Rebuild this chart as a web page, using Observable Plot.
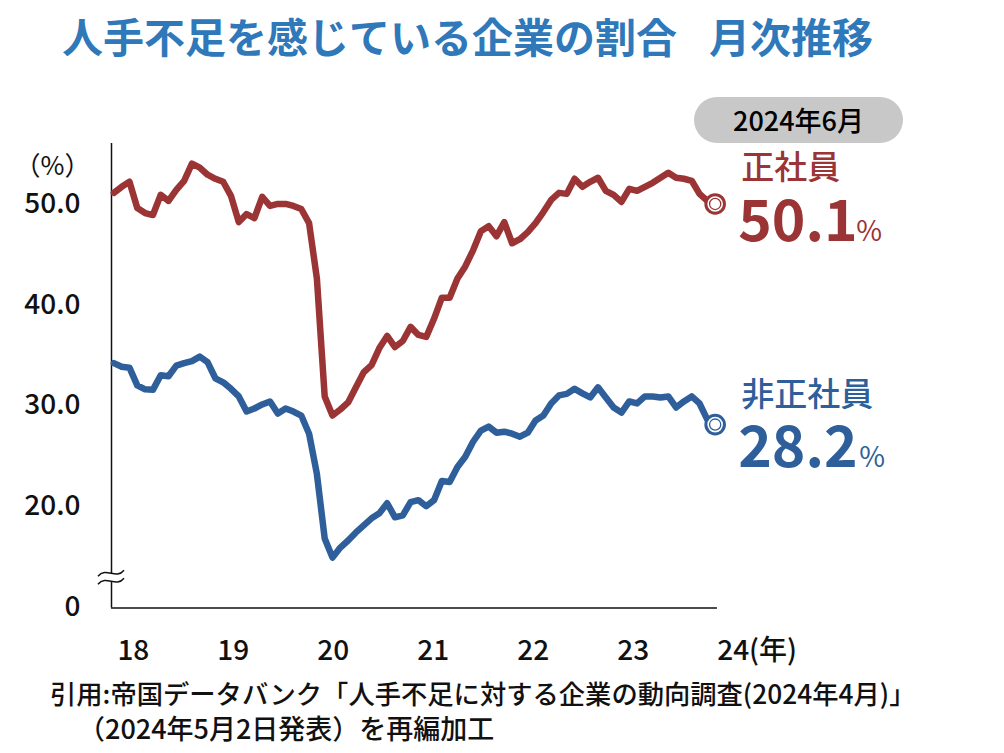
<!DOCTYPE html>
<html>
<head>
<meta charset="utf-8">
<script src="https://cdn.jsdelivr.net/npm/d3@7"></script>
<script src="https://cdn.jsdelivr.net/npm/@observablehq/plot@0.6"></script>
<style>
  html, body { margin: 0; padding: 0; background: #fff; }
  body { width: 1004px; height: 753px; overflow: hidden; font-family: "Noto Sans CJK JP", "Noto Sans", sans-serif; }
  #wrap { position: relative; width: 1004px; height: 753px; }
  #chart { position: absolute; left: 0; top: 0; }
  .title { position: absolute; left: 62px; top: 13px; font-size: 41px; line-height: 44px; font-weight: 700; color: #2f78ba; white-space: nowrap; }
  .title .gap { display: inline-block; width: 32px; }
  .pill { position: absolute; left: 694px; top: 97px; width: 209px; height: 46px; border-radius: 23px; background: #c8c8c8; color: #000; font-size: 27px; font-weight: 500; line-height: 46px; text-align: center; }
  .cap { position: absolute; font-size: 26.3px; font-weight: 500; color: #111; white-space: nowrap; line-height: 35px; height: 35px; }
</style>
</head>
<body>
<div id="wrap">
  <div id="chart"></div>
  <div class="title" id="title"></div>
  <div class="pill" id="pill"></div>
  <div class="cap" id="cap1" style="left:50px; top:674.5px;"></div>
  <div class="cap" id="cap2" style="left:78px; top:709.5px; font-size:27px;"></div>
</div>
<script>
// ---- data (monthly, Jan 2018 .. Jun 2024) ----
const startYear = 2018;
const startMonth = 1;
const regular = [51.2, 51.8, 52.3, 49.7, 49.2, 49.0, 51.0, 50.4, 51.5, 52.4,
  54.1, 53.7, 53.0, 52.6, 52.3, 50.9, 48.3, 49.1, 48.7, 50.8,
  49.9, 50.1, 50.1, 49.9, 49.6, 48.2, 42.7, 31.0, 29.1, 29.7,
  30.4, 31.9, 33.4, 34.1, 35.8, 37.0, 35.9, 36.5, 37.9, 37.1,
  36.9, 38.7, 40.8, 40.8, 42.7, 43.9, 45.5, 47.4, 47.9, 46.9,
  48.3, 46.2, 46.6, 47.3, 48.2, 49.3, 50.5, 51.2, 51.1, 52.6,
  51.8, 52.3, 52.7, 51.4, 51.0, 50.3, 51.6, 51.4, 51.8, 52.2,
  52.7, 53.2, 52.7, 52.6, 52.4, 51.1, 50.4, 50.1];
const nonRegular = [34.3, 33.95, 33.85, 32.1, 31.7, 31.65, 33.1, 33.0, 34.05, 34.3,
  34.5, 34.95, 34.4, 32.8, 32.4, 31.75, 31.0, 29.5, 29.8, 30.2,
  30.5, 29.3, 29.8, 29.5, 29.1, 27.3, 23.3, 16.9, 15.0, 16.0,
  16.7, 17.5, 18.2, 18.9, 19.4, 20.4, 19.0, 19.2, 20.5, 20.7,
  20.1, 20.7, 22.6, 22.5, 24.0, 25.0, 26.5, 27.6, 28.0, 27.4,
  27.5, 27.3, 27.0, 27.4, 28.6, 29.1, 30.3, 31.1, 31.25, 31.75,
  31.3, 30.9, 31.9, 30.9, 29.9, 29.4, 30.5, 30.3, 31.0, 31.0,
  30.9, 31.0, 29.9, 30.5, 31.0, 30.3, 28.7, 28.2];
const seriesNames = ["正社員", "非正社員"];
const yTickValues = [10, 20, 30, 40, 50];
const yTickLabels = ["0", "20.0", "30.0", "40.0", "50.0"];
const xTickMonths = [2.5, 15.3, 28.1, 40.9, 53.7, 66.5, 79.3];
const xTickLabels = ["18", "19", "20", "21", "22", "23", "24"];
const xUnitLabel = "(年)";
const yUnitLabel = "（%）";
const yBreakValue = 13;
const titleMain = "人手不足を感じている企業の割合";
const titleSub = "月次推移";
const caption1 = "引用:帝国データバンク「人手不足に対する企業の動向調査(2024年4月)」";
const caption2 = "（2024年5月2日発表）を再編加工";

// ---- styles ----
const red = "#9b3434";
const blue = "#2f5f9a";
const font = "'Noto Sans CJK JP', 'Noto Sans', sans-serif";

const toRows = (arr) => arr.map((v, i) => ({i, v}));
const regRows = toRows(regular);
const nonRows = toRows(nonRegular);
const xDomain = [-0.3, regular.length - 1 + 0.3];
const yDomain = [10, 56.1];
const fmt = d3.format(".1f");

const lastIdx = regular.length - 1;
const lastMonthTotal = (startMonth - 1) + lastIdx;
const lastYear = startYear + Math.floor(lastMonthTotal / 12);
const lastMonth = (lastMonthTotal % 12) + 1;

function endMarks(rows, color, name, o) {
  const last = [rows[rows.length - 1]];
  const base = {x: "i", y: "v", textAnchor: "start", fill: color, fontFamily: font};
  return [
    Plot.dot(last, {x: "i", y: "v", r: 9.3, fill: "white", stroke: color, strokeWidth: 3}),
    Plot.dot(last, {x: "i", y: "v", r: 5.6, fill: "none", stroke: color, strokeWidth: 1.3}),
    Plot.text(last, {...base, text: () => name, dx: 26, dy: o.dyName, fontSize: 33, fontWeight: 500}),
    Plot.text(last, {...base, text: d => fmt(d.v), dx: 23, dy: o.dyVal, fontSize: 57, fontWeight: 700}),
    Plot.text(last, {...base, text: () => "%", dx: o.dxPct, dy: o.dyPct, fontSize: 28, fontWeight: 400})
  ];
}

function breakMark(index, scales) {
  const g = d3.create("svg:g");
  const x0 = scales.x(xDomain[0]);
  const yb = scales.y(yBreakValue);
  const wave = (y) => `M${x0 - 13},${y + 3} C${x0 - 5},${y - 7} ${x0 + 5},${y + 7} ${x0 + 13},${y - 3}`;
  const y1 = yb - 4, y2 = yb + 4;
  g.append("path")
    .attr("d", `M${x0 - 13},${y1 + 3} C${x0 - 5},${y1 - 7} ${x0 + 5},${y1 + 7} ${x0 + 13},${y1 - 3} L${x0 + 13},${y2 - 3} C${x0 + 5},${y2 + 7} ${x0 - 5},${y2 - 7} ${x0 - 13},${y2 + 3} Z`)
    .attr("fill", "white");
  g.append("path").attr("d", wave(y1)).attr("fill", "none").attr("stroke", "#111").attr("stroke-width", 1.5);
  g.append("path").attr("d", wave(y2)).attr("fill", "none").attr("stroke", "#111").attr("stroke-width", 1.5);
  return g.node();
}

const chart = Plot.plot({
  width: 1004,
  height: 753,
  marginLeft: 111,
  marginRight: 287,
  marginTop: 143,
  marginBottom: 145.5,
  x: {domain: xDomain, axis: null},
  y: {domain: yDomain, axis: null},
  style: {fontFamily: font, background: "transparent", overflow: "visible"},
  marks: [
    Plot.ruleX([xDomain[0]], {stroke: "#111", strokeWidth: 1.5}),
    Plot.ruleY([yDomain[0]], {stroke: "#111", strokeWidth: 1.5}),
    breakMark,
    Plot.text(yTickValues, {y: d => d, text: (d, i) => yTickLabels[i], frameAnchor: "left", dx: -31, dy: -1, textAnchor: "end", fontSize: 28, fontWeight: 500, fill: "#111"}),
    Plot.text([yUnitLabel], {frameAnchor: "top-left", dx: -59, dy: 13, textAnchor: "middle", fontSize: 26, fontWeight: 400, fill: "#111"}),
    Plot.text(xTickMonths, {x: d => d, text: (d, i) => xTickLabels[i], frameAnchor: "bottom", dy: 52, textAnchor: "middle", fontSize: 28, fontWeight: 500, fill: "#111"}),
    Plot.text([xTickMonths[xTickMonths.length - 1]], {x: d => d, text: () => xUnitLabel, frameAnchor: "bottom", dx: 16, dy: 52, textAnchor: "start", fontSize: 28, fontWeight: 500, fill: "#111"}),
    Plot.line(regRows, {x: "i", y: "v", stroke: red, strokeWidth: 6.5, strokeLinejoin: "round", strokeLinecap: "round"}),
    Plot.line(nonRows, {x: "i", y: "v", stroke: blue, strokeWidth: 6.5, strokeLinejoin: "round", strokeLinecap: "round"}),
    ...endMarks(regRows, red, seriesNames[0], {dyName: -36, dyVal: 19, dxPct: 141, dyPct: 28}),
    ...endMarks(nonRows, blue, seriesNames[1], {dyName: -29, dyVal: 24.5, dxPct: 144, dyPct: 33.6})
  ]
});
document.getElementById("chart").appendChild(chart);

const t = document.getElementById("title");
t.appendChild(document.createTextNode(titleMain));
const gap = document.createElement("span"); gap.className = "gap"; t.appendChild(gap);
t.appendChild(document.createTextNode(titleSub));
document.getElementById("pill").textContent = `${lastYear}年${lastMonth}月`;
document.getElementById("cap1").textContent = caption1;
document.getElementById("cap2").textContent = caption2;
</script>
</body>
</html>
